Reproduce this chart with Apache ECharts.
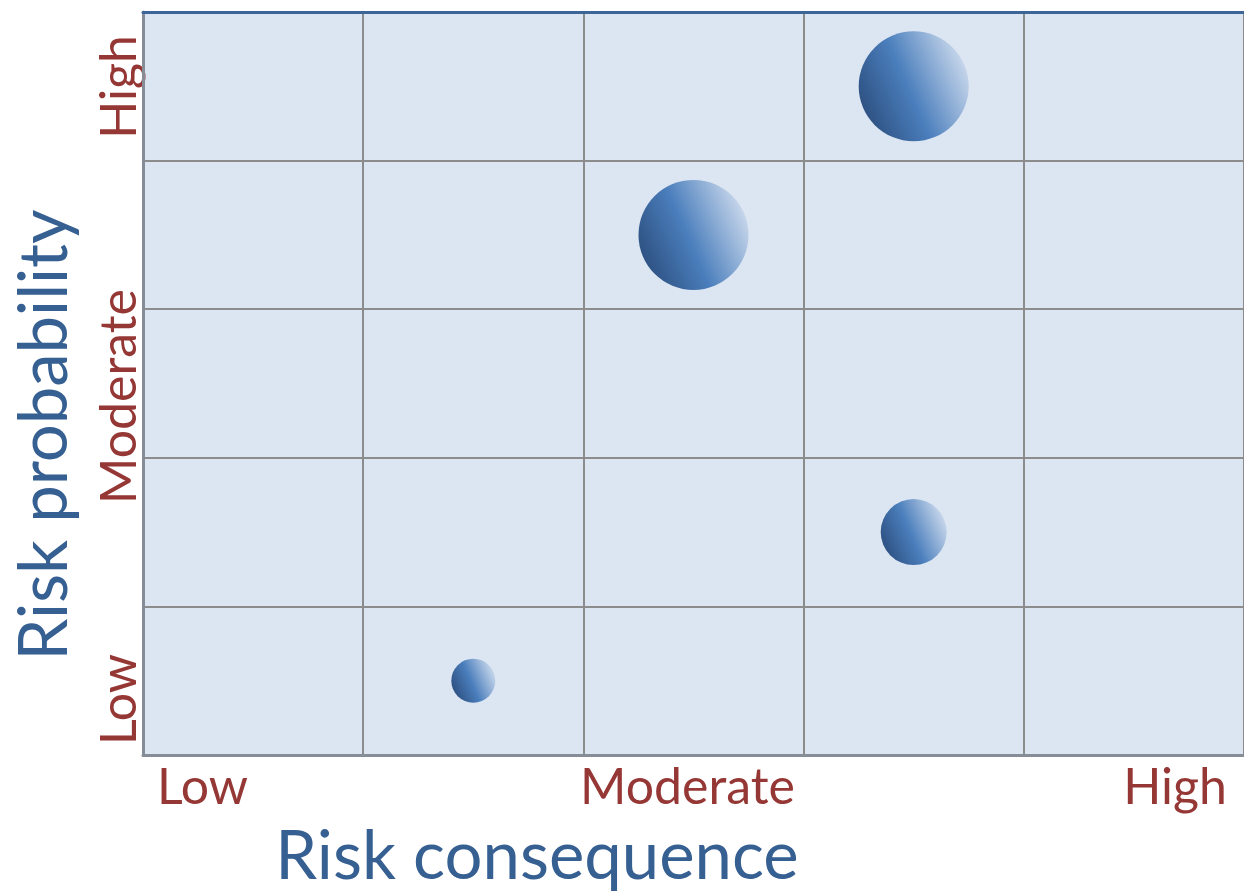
<!DOCTYPE html>
<html>
<head>
<meta charset="utf-8">
<script src="https://cdn.jsdelivr.net/npm/echarts@6/dist/echarts.min.js"></script>
<style>
  html, body { margin: 0; padding: 0; background: #ffffff; }
  #chart { width: 1244px; height: 891px; }
</style>
</head>
<body>
<div id="chart"></div>
<script>
// Risk matrix: each bubble is one risk, placed by consequence and probability
const consequence = [1.5, 3.5, 2.5, 3.5];
const probability = [0.5, 1.5, 3.5, 4.5];
const impact = [2, 3, 5, 5];

// Level labels shown along both axes
const levelLabels = ['Low', 'Moderate', 'High'];
const levelValues = [0, 2.5, 5];

const xTitle = 'Risk consequence';
const yTitle = 'Risk probability';

const FONT = 'Lato';
const LABEL_RED = '#953735';
const TITLE_BLUE = '#376092';
const GRID_GREY = '#8c8c8c';

const chart = echarts.init(document.getElementById('chart'), null, { renderer: 'canvas' });

const bubbleFill = new echarts.graphic.LinearGradient(0, 0.72, 1, 0.28, [
  { offset: 0, color: '#2c4e7e' },
  { offset: 0.45, color: '#4a7ebc' },
  { offset: 1, color: '#cfdcee' }
]);

const points = consequence.map((c, i) => [c, probability[i], impact[i]]);

chart.setOption({
  animation: false,
  grid: {
    left: 143, right: -2, top: 12, bottom: 136,
    show: true, backgroundColor: '#dce6f2', borderWidth: 0
  },
  xAxis: [
    {
      type: 'value', min: 0, max: 5, interval: 1, position: 'bottom',
      axisLine: { show: true, lineStyle: { color: '#868d96', width: 3 } },
      axisTick: { show: false },
      axisLabel: { show: false },
      splitLine: { show: true, lineStyle: { color: GRID_GREY, width: 2 } }
    },
    {
      type: 'value', min: 0, max: 5, position: 'top',
      axisLine: { show: true, onZero: false, lineStyle: { color: '#3e6597', width: 3 } },
      axisTick: { show: false },
      axisLabel: { show: false },
      splitLine: { show: false }
    }
  ],
  yAxis: {
    type: 'value', min: 0, max: 5, interval: 1,
    axisLine: { show: true, lineStyle: { color: '#868d96', width: 3 } },
    axisTick: { show: false },
    axisLabel: { show: false },
    splitLine: { show: true, lineStyle: { color: GRID_GREY, width: 2 } }
  },
  series: [{
    type: 'scatter',
    xAxisIndex: 0,
    data: points,
    symbol: 'circle',
    symbolSize: d => d[2] * 22,
    itemStyle: { color: bubbleFill, opacity: 1 },
    emphasis: { disabled: true }
  }]
});

// Axis level labels and titles, positioned through the grid's own coordinate system
const px = (x, y) => chart.convertToPixel({ gridIndex: 0 }, [x, y]);
const graphics = [];

const xAligns = ['left', 'center', 'right'];
const xShift = [14, -6, -17];
levelLabels.forEach((t, i) => {
  const p = px(levelValues[i], 0);
  graphics.push({
    type: 'text', x: p[0] + xShift[i], y: p[1] + 33,
    style: { text: t, font: '50px ' + FONT, fill: LABEL_RED, align: xAligns[i], verticalAlign: 'middle' }
  });
});

const yAligns = ['left', 'center', 'right'];
const yShift = [-10, 13, 23];
levelLabels.forEach((t, i) => {
  const p = px(0, levelValues[i]);
  graphics.push({
    type: 'text', x: 120, y: p[1] + yShift[i], rotation: Math.PI / 2,
    style: { text: t, font: '50px ' + FONT, fill: LABEL_RED, align: yAligns[i], verticalAlign: 'middle' }
  });
});

graphics.push({
  type: 'text', x: 537, y: 857,
  style: { text: xTitle, font: '67px ' + FONT, fill: TITLE_BLUE, align: 'center', verticalAlign: 'middle' }
});
graphics.push({
  type: 'text', x: 45, y: 435, rotation: Math.PI / 2,
  style: { text: yTitle, font: '67px ' + FONT, fill: TITLE_BLUE, align: 'center', verticalAlign: 'middle' }
});

chart.setOption({ graphic: graphics });
</script>
</body>
</html>
